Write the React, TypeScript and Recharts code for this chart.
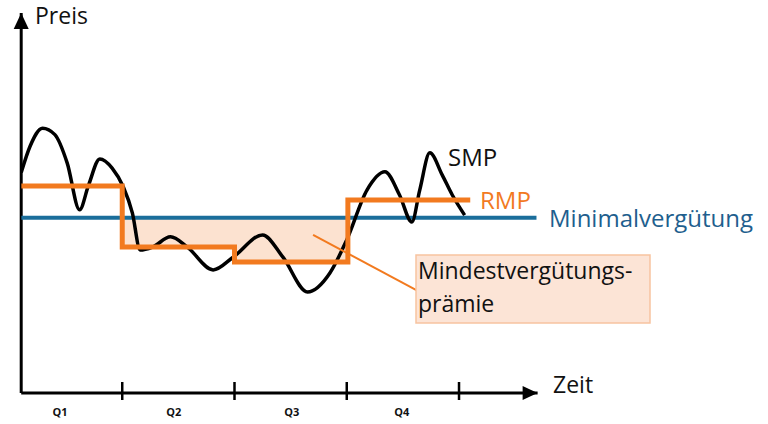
import React from "react";
import {
  ComposedChart,
  Line,
  Area,
  XAxis,
  YAxis,
  ReferenceDot,
  ReferenceLine,
} from "recharts";

// time in quarters, price in arbitrary units (0..100)
const smpTime = [
  0.1, 0.18, 0.29, 0.4, 0.51, 0.62, 0.7, 0.8, 0.91, 1.01, 1.09, 1.16, 1.27,
  1.43, 1.58, 1.81, 1.99, 2.25, 2.43, 2.65, 2.85, 3.0, 3.18, 3.34, 3.47, 3.58,
  3.65, 3.74, 3.85, 3.94, 4.05,
];
const smpPrice = [
  58, 65, 69.7, 68, 60.5, 48.2, 54.7, 61.6, 59.2, 54.2, 47.4, 37.6, 38.4, 41.1,
  38.4, 32.4, 35.8, 41.6, 35.8, 26.6, 31.6, 40.3, 53.4, 58.2, 52.1, 45, 53.4,
  63.2, 57.4, 52.1, 46.8,
];

const rmpTime = [0.1, 1.0, 2.0, 3.01, 4.1];
const rmpPrice = [54.5, 38.4, 34.5, 50.8, 50.8];

const minTime = [0.1, 4.69];
const minPrice = 46.1;

// premium band: quarters where RMP is below the minimum
const bandTime = [1.0, 2.0, 3.01];
const bandLow = [38.4, 34.5, 34.5];

const tickValues = [0.445, 1, 1.46, 2, 2.51, 3, 3.49, 4];
const quarterLabels = ["Q1", "Q2", "Q3", "Q4"];

const smpData = smpTime.map((t, i) => ({ t, v: smpPrice[i] }));
const rmpData = rmpTime.map((t, i) => ({ t, v: rmpPrice[i] }));
const minData = minTime.map((t) => ({ t, v: minPrice }));
const bandData = bandTime.map((t, i) => ({ t, band: [bandLow[i], minPrice] }));

const ORANGE = "#F27A1F";
const BLUE = "#1B6E9B";
const FONT = "'Open Sans', sans-serif";

const AxisTick = (props: any) => {
  const { x, y, payload, index } = props;
  if (Number.isInteger(payload.value)) {
    return <line x1={x} x2={x} y1={y - 11} y2={y + 7} stroke="#000" strokeWidth={2.5} />;
  }
  const label = quarterLabels[Math.floor(index / 2)];
  return (
    <text x={x} y={y + 23} textAnchor="middle" fontFamily={FONT} fontWeight={700} fontSize={11} fill="#111">
      {label}
    </text>
  );
};

const ArrowUp = (props: any) => {
  const { cx, cy } = props;
  return <polygon points={`${cx},${cy} ${cx - 7.5},${cy + 16} ${cx + 7.5},${cy + 16}`} fill="#000" />;
};

const ArrowRight = (props: any) => {
  const { cx, cy } = props;
  return <polygon points={`${cx},${cy} ${cx - 15},${cy - 7} ${cx - 15},${cy + 7}`} fill="#000" />;
};

export default function App() {
  return (
    <div style={{ position: "absolute", left: 0, top: 0, width: 768, height: 424, background: "#fff" }}>
      <ComposedChart width={768} height={424} margin={{ top: 13, right: 230.4, bottom: 0, left: 21.2 }}>
        <XAxis
          type="number"
          dataKey="t"
          domain={[0.1, 4.7]}
          ticks={tickValues}
          interval={0}
          height={31}
          tickSize={0}
          tickMargin={0}
          tickLine={false}
          axisLine={{ stroke: "#000", strokeWidth: 3 }}
          tick={<AxisTick />}
          allowDataOverflow
        />
        <YAxis type="number" domain={[0, 100]} width={0} tick={false} tickLine={false} axisLine={false} allowDataOverflow />
        <Area
          data={bandData}
          dataKey="band"
          type="stepAfter"
          stroke="none"
          fill="#FCE2D0"
          fillOpacity={1}
          isAnimationActive={false}
        />
        <ReferenceLine x={0.1} stroke="#000" strokeWidth={3} />
        <Line data={minData} dataKey="v" type="linear" stroke={BLUE} strokeWidth={4} dot={false} isAnimationActive={false} />
        <Line data={smpData} dataKey="v" type="monotone" stroke="#000" strokeWidth={3.5} dot={false} isAnimationActive={false} />
        <Line
          data={rmpData}
          dataKey="v"
          type="stepAfter"
          stroke={ORANGE}
          strokeWidth={5}
          dot={false}
          isAnimationActive={false}
        />
        <ReferenceLine
          segment={[
            { x: 2.7, y: 41.6 },
            { x: 3.62, y: 27.1 },
          ]}
          stroke={ORANGE}
          strokeWidth={2}
        />
        <ReferenceDot x={0.1} y={100} r={1} shape={<ArrowUp />} />
        <ReferenceDot x={4.7} y={0} r={1} shape={<ArrowRight />} />
      </ComposedChart>
      <svg width={768} height={424} style={{ position: "absolute", left: 0, top: 0, pointerEvents: "none" }}>
        <g fontFamily={FONT}>
          <text x={35} y={24} fontSize={23} fill="#111">Preis</text>
          <text x={553} y={393} fontSize={23} fill="#111">Zeit</text>
          <text x={448} y={166} fontSize={24} fill="#111">SMP</text>
          <text x={480} y={209} fontSize={24} fill={ORANGE}>RMP</text>
          <text x={549} y={227} fontSize={24} fill="#1F5F8E">Minimalvergütung</text>
          <rect x={416} y={255} width={234} height={68} fill="#FCE4D6" stroke="#F7C3A0" strokeWidth={1.5} />
          <text x={418} y={279} fontSize={23} fill="#111">Mindestvergütungs-</text>
          <text x={418} y={312} fontSize={23} fill="#111">prämie</text>
        </g>
      </svg>
    </div>
  );
}
